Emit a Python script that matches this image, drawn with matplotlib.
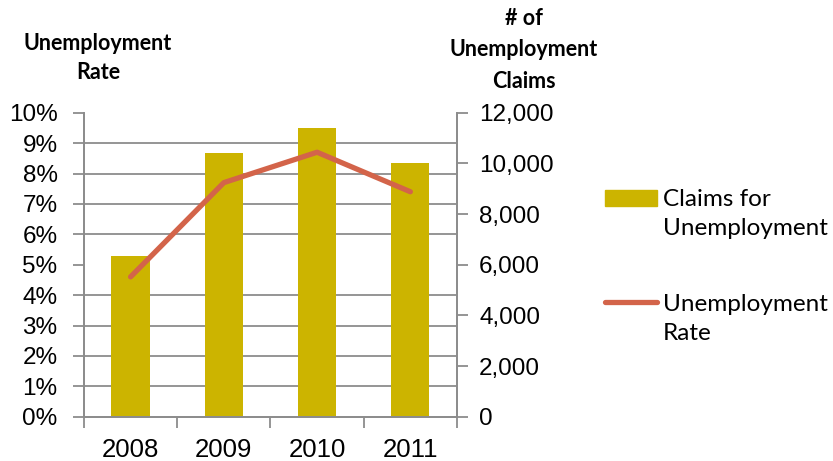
import matplotlib
matplotlib.use('Agg')
import matplotlib.pyplot as plt
from matplotlib.ticker import MultipleLocator, FuncFormatter, FixedLocator
from matplotlib.patches import Rectangle
from matplotlib.lines import Line2D

# yearly figures
years = ['2008', '2009', '2010', '2011']
claims = [6350, 10400, 11400, 10000]        # number of unemployment claims
rate = [4.6, 7.7, 8.7, 7.4]                 # unemployment rate, percent

bar_color = '#CCB400'
line_color = '#D3644A'
grid_color = '#8C8C8C'
tick_font = 'Liberation Sans'
text_font = 'Lato'

fig = plt.figure(figsize=(8.33, 4.61), dpi=100)
ax = fig.add_axes([0.1008, 0.0961, 0.4478, 0.6594])   # percent axis (left)
ax2 = ax.twinx()                                        # claims axis (right)

# the line lives on the percent axis, so lift it above the bar axis
ax.set_zorder(ax2.get_zorder() + 1)
ax.patch.set_visible(False)

x = list(range(len(years)))
ax2.bar(x, claims, width=0.41, color=bar_color, zorder=2)
ax.plot(x, [r / 100 for r in rate], color=line_color, lw=3.8,
        solid_capstyle='round', solid_joinstyle='round', zorder=3)

ax.set_xlim(-0.5, len(years) - 0.5)
ax.set_ylim(0, 0.10)
ax2.set_ylim(0, 12000)

# horizontal grid at every 1% (= 1,200 claims), drawn behind the bars
ax2.set_axisbelow(True)
ax2.yaxis.set_minor_locator(MultipleLocator(1200))
ax2.grid(which='minor', axis='y', color=grid_color, lw=1.3)
ax2.tick_params(axis='y', which='minor', length=0)

ax.yaxis.set_major_locator(MultipleLocator(0.01))
ax.yaxis.set_major_formatter(FuncFormatter(lambda v, p: f'{v * 100:.0f}%'))
ax2.yaxis.set_major_locator(MultipleLocator(2000))
ax2.yaxis.set_major_formatter(FuncFormatter(lambda v, p: f'{v:,.0f}'))

# category boundaries get the tick marks, labels sit at the centres
ax.xaxis.set_major_locator(FixedLocator([i - 0.5 for i in range(len(years) + 1)]))
ax.xaxis.set_major_formatter(FuncFormatter(lambda v, p: ''))
ax.xaxis.set_minor_locator(FixedLocator(x))
ax.set_xticklabels(years, minor=True)
ax.tick_params(axis='x', which='minor', length=0, pad=15)
ax.tick_params(axis='x', which='major', length=8, width=1.3, color=grid_color)

ax.tick_params(axis='y', length=8, width=1.3, color=grid_color, pad=11)
ax2.tick_params(axis='y', which='major', length=8, width=1.3, color=grid_color, pad=8)

for a in (ax, ax2):
    for lab in a.get_yticklabels():
        lab.set_fontfamily(tick_font)
        lab.set_fontsize(17.5)
    for side in ('left', 'right', 'bottom'):
        a.spines[side].set_color(grid_color)
        a.spines[side].set_linewidth(1.3)
    a.spines['top'].set_visible(False)
for lab in ax.get_xticklabels(minor=True):
    lab.set_fontfamily(tick_font)
    lab.set_fontsize(18.5)

# axis titles
fig.text(98 / 833, 1 - 58 / 461, 'Unemployment\nRate', ha='center', va='center',
         fontfamily=text_font, fontweight='bold', fontsize=15.5, linespacing=1.45)
fig.text(524 / 833, 1 - 50 / 461, '# of\nUnemployment\nClaims', ha='center', va='center',
         fontfamily=text_font, fontweight='bold', fontsize=15.5, linespacing=1.6)

# legend
lax = fig.add_axes([0, 0, 1, 1])
lax.set_xlim(0, 833)
lax.set_ylim(461, 0)
lax.axis('off')
lax.add_patch(Rectangle((605, 190), 52, 16, color=bar_color))
lax.add_line(Line2D([605, 657], [302, 302], color=line_color, lw=3.8,
                    solid_capstyle='round'))
lax.text(663, 214, 'Claims for\nUnemployment', ha='left', va='center',
         fontfamily=text_font, fontsize=17.5, linespacing=1.5)
lax.text(663, 319, 'Unemployment\nRate', ha='left', va='center',
         fontfamily=text_font, fontsize=17.5, linespacing=1.5)

fig.savefig('out.png', dpi=100)
